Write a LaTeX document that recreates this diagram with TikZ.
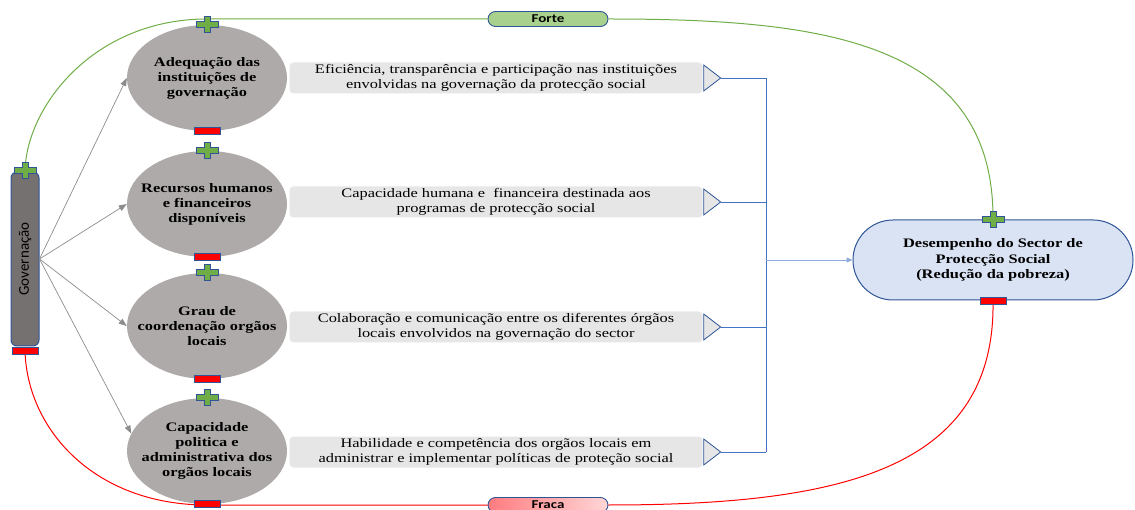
\documentclass[tikz,border=0pt]{standalone}
\usepackage{fontspec}
\setmainfont[FakeStretch=1.26]{Liberation Serif}
\newfontfamily\calibri[FakeStretch=1.25]{Carlito}
\newfontfamily\calibriplain{Carlito}
\usetikzlibrary{shapes.geometric,shapes.misc,arrows.meta,calc}

\definecolor{ellgray}{HTML}{AEAAAA}
\definecolor{govgray}{HTML}{767171}
\definecolor{bordblue}{HTML}{2F5597}
\definecolor{boxgray}{HTML}{E7E6E6}
\definecolor{lineblue}{HTML}{4472C4}
\definecolor{paleblue}{HTML}{8FAADC}
\definecolor{perfblue}{HTML}{DAE3F3}
\definecolor{plusgreen}{HTML}{70AD47}
\definecolor{fortegreen}{HTML}{A9D18E}
\definecolor{arrgray}{HTML}{8C8C8C}
\definecolor{fracaleft}{HTML}{FF7C80}
\definecolor{fracaright}{HTML}{FFD6D6}

\tikzset{
  govbar/.style={draw=bordblue, line width=1pt, fill=govgray, rounded corners=6pt,
    minimum width=28pt, minimum height=174pt, inner sep=0pt},
  factor/.style={ellipse, fill=ellgray, minimum width=160pt, minimum height=106pt,
    inner sep=0pt},
  factortext/.style={inner sep=0pt, align=center, font=\bfseries\fontsize{13}{15}\selectfont},
  infobox/.style={fill=boxgray, rounded corners=4pt, minimum width=413pt,
    minimum height=31pt, inner sep=0pt, align=center, font=\fontsize{13}{15.5}\selectfont},
  tri/.style={draw=bordblue, fill=boxgray, line width=0.8pt, line join=miter},
  busline/.style={lineblue, line width=0.9pt},
  perfbox/.style={rounded rectangle, draw=bordblue, line width=1pt, fill=perfblue,
    minimum width=280pt, minimum height=80pt, inner sep=0pt, align=center,
    font=\bfseries\fontsize{13}{15.5}\selectfont},
  pill/.style={rounded rectangle, draw=bordblue, line width=0.9pt, minimum width=120pt,
    minimum height=15pt, inner sep=0pt, font=\calibri\bfseries\fontsize{12}{12}\selectfont},
  garrow/.style={arrgray, line width=0.7pt, -{Triangle[length=8pt,width=6pt]}},
  strong/.style={plusgreen, line width=1pt},
  weak/.style={red, line width=1pt},
  plusmark/.pic={\draw[bordblue, fill=plusgreen, line width=0.7pt]
    (-11,-3)--(-3,-3)--(-3,-8)--(3,-8)--(3,-3)--(11,-3)--(11,3)--(3,3)--(3,8)
    --(-3,8)--(-3,3)--(-11,3)--cycle;},
  minusmark/.pic={\draw[bordblue, fill=red, line width=0.7pt] (-13,-3.5) rectangle (13,3.5);}
}

\begin{document}
\begin{tikzpicture}[x=1pt, y=-1pt]
\useasboundingbox (0,0) rectangle (1135,510);

% governance bar
\node[govbar] (gov) at (25,259) {};
\node[rotate=90, font=\calibriplain\fontsize{15}{15}\selectfont] (govtxt) at (gov.center) {Governação};

% factors
\node[factor] (e1) at (207,78) {};
\node[factor] (e2) at (207,204) {};
\node[factor] (e3) at (207,326) {};
\node[factor] (e4) at (207,451) {};
\node[factortext] (e1t) at (e1) {Adequação das\\instituições de\\governação};
\node[factortext] (e2t) at (e2) {Recursos humanos\\e financeiros\\disponíveis};
\node[factortext] (e3t) at (e3) {Grau de\\coordenação orgãos\\locais};
\node[factortext] (e4t) at (e4) {Capacidade\\politica e\\administrativa dos\\orgãos locais};

% descriptions
\node[infobox] (b1) at (496,78) {Eficiência, transparência e participação nas instituições\\envolvidas na governação da protecção social};
\node[infobox] (b2) at (496,202) {Capacidade humana e \ financeira destinada aos\\programas de protecção social};
\node[infobox] (b3) at (496,327) {Colaboração e comunicação entre os diferentes órgãos\\locais envolvidos na governação do sector};
\node[infobox] (b4) at (496,452) {Habilidade e competência dos orgãos locais em\\administrar e implementar políticas de proteção social};

% outcome
\node[perfbox] (perf) at (993,260) {Desempenho do Sector de\\Protecção Social\\(Redução da pobreza)};

% strength labels
\node[pill, fill=fortegreen] (forte) at (548,19) {Forte};
\node[pill, left color=fracaleft, right color=fracaright] (fraca) at (548,505) {Fraca};

% arrow heads after the descriptions
\foreach \i in {1,2,3,4}{
  \draw[tri] ($(b\i.east)+(1,-13)$) -- ($(b\i.east)+(18,0)$) coordinate (t\i)
    -- ($(b\i.east)+(1,13)$) -- cycle;
}

% collecting bus
\coordinate (bus) at (766,260);
\foreach \i in {1,2,3,4}{ \draw[busline] (t\i) -- (t\i -| bus); }
\draw[busline] (t1 -| bus) -- (t4 -| bus);
\draw[paleblue, line width=0.9pt, -{Triangle[length=6pt,width=5pt]}] (bus) -- (perf.west);

% governance to factors
\draw[garrow] (gov.east) -- (e1.180);
\draw[garrow] (gov.east) -- (e2.180);
\draw[garrow] (gov.east) -- (e3.180);
\draw[garrow] (gov.east) -- (e4.167);

% polarity anchors of the governance bar
\coordinate (govplus) at ($(gov.north)+(0,-1)$);
\coordinate (govminus) at ($(gov.south)+(0,4)$);

% strong and weak links
\draw[strong] (govplus) .. controls (27,105) and (95,19) .. (e1.north |- forte.west) -- (forte.west);
\draw[strong] (forte.east) .. controls (820,19) and (994,40) .. (perf.north);
\draw[weak] (govminus) .. controls (27,430) and (95,505) .. (e4.south |- fraca.west) -- (fraca.west);
\draw[weak] (fraca.east) .. controls (840,505) and (996,470) .. (perf.south);

% polarity markers
\pic at (govplus) {plusmark};
\pic at (govminus) {minusmark};
\foreach \e in {e1,e2,e3,e4}{
  \pic at (\e.north) {plusmark};
  \pic at (\e.south) {minusmark};
}
\pic at (perf.north) {plusmark};
\pic at (perf.south) {minusmark};
\end{tikzpicture}
\end{document}
